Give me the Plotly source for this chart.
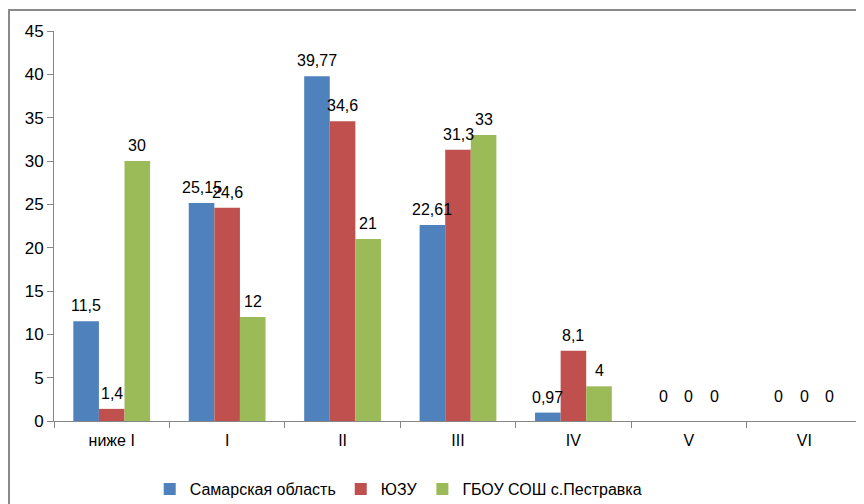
import plotly.graph_objects as go

categories = ["ниже I", "I", "II", "III", "IV", "V", "VI"]
samara = [11.5, 25.15, 39.77, 22.61, 0.97, 0, 0]
yuzu = [1.4, 24.6, 34.6, 31.3, 8.1, 0, 0]
school = [30, 12, 21, 33, 4, 0, 0]
series_names = ["Самарская область", "ЮЗУ", "ГБОУ СОШ с.Пестравка"]
colors = ["#4F81BD", "#C0504D", "#9BBB59"]

FONT = "Liberation Sans, Arial, sans-serif"

def fmt(v):
    s = ("%g" % v)
    return s.replace(".", ",")

L, T, R, B = 46, 23, 10, 91
PW, PH = 864 - L - R, 504 - T - B
BARGAP = 0.335
bar_px = PW / len(categories) * (1 - BARGAP) / 3

fig = go.Figure()
annotations = []
for i, (name, vals, col) in enumerate(zip(series_names, [samara, yuzu, school], colors)):
    fig.add_trace(go.Bar(
        x=categories, y=vals, name=name,
        marker=dict(color=col, line=dict(width=0)),
    ))
    for c, v in zip(categories, vals):
        annotations.append(dict(
            x=c, y=v, xref="x", yref="y", text=fmt(v), showarrow=False,
            xanchor="center", yanchor="bottom",
            xshift=(i - 1) * bar_px, yshift=14 if v == 0 else 5,
            font=dict(size=16, color="#000", family=FONT),
        ))

fig.update_layout(
    width=864, height=504,
    barmode="group", bargap=BARGAP, bargroupgap=0,
    plot_bgcolor="white", paper_bgcolor="white",
    margin=dict(l=L, r=R, t=T, b=B, autoexpand=False),
    font=dict(family=FONT, size=16, color="#000"),
    showlegend=True,
    annotations=annotations,
    legend=dict(orientation="h", x=0.426, xanchor="center", yref="container",
                y=(504 - 481) / 504, yanchor="middle",
                font=dict(size=16, family=FONT), traceorder="normal"),
    xaxis=dict(showline=True, linecolor="#868686", linewidth=1, ticks="outside",
               tickson="boundaries", ticklen=6, tickcolor="#868686", automargin=False,
               ticklabelstandoff=5,
               tickfont=dict(size=16, family=FONT, color="#000"), showgrid=False),
    yaxis=dict(range=[0, 45], dtick=5, showline=True, linecolor="#868686", linewidth=1,
               ticks="outside", ticklen=6, tickcolor="#868686", showgrid=False, automargin=False,
               zeroline=False, tickfont=dict(size=17, family=FONT, color="#000")),
    shapes=[dict(type="rect", xref="paper", yref="paper",
                 x0=(1 - L) / PW, x1=1.05, y0=-0.4, y1=(PH + T - 2) / PH,
                 line=dict(color="#8a8a8a", width=2), fillcolor="rgba(0,0,0,0)", layer="below")],
)

fig.write_html("out.html")
